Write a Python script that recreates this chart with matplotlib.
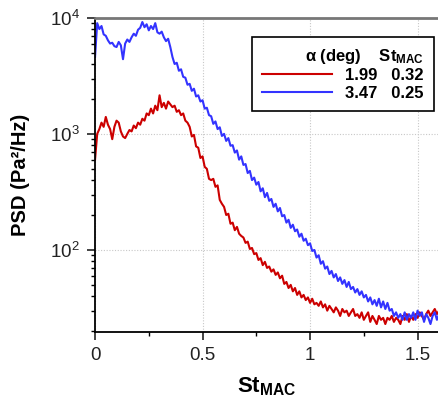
import numpy as np
import matplotlib
matplotlib.use("Agg")
import matplotlib.pyplot as plt

plt.rcParams['font.family'] = ['Liberation Sans', 'DejaVu Sans']
plt.rcParams['mathtext.fontset'] = 'custom'
plt.rcParams['mathtext.rm'] = 'Liberation Sans'
plt.rcParams['mathtext.bf'] = 'Liberation Sans:bold'
plt.rcParams['mathtext.default'] = 'regular'

# Strouhal number axis (step 0.01)
st = np.round(np.arange(0, 1.601, 0.01), 2)

# alpha = 1.99 deg
psd_red = [
    600, 1000, 1100, 1250, 1150, 1400, 1200, 1100, 900, 1150,
    1300, 1250, 1050, 950, 920, 1000, 1080, 1050, 1180, 1120,
    1250, 1200, 1350, 1300, 1500, 1450, 1650, 1500, 1750, 1600,
    2150, 1700, 1850, 1650, 1900, 1800, 1700, 1750, 1550, 1600,
    1450, 1500, 1300, 1250, 1150, 950, 980, 780, 760, 620,
    640, 520, 500, 410, 400, 410, 350, 360, 270, 250,
    235, 200, 205, 168, 172, 148, 158, 138, 132, 128,
    115, 118, 102, 104, 92, 94, 82, 85, 74, 79,
    70, 72, 65, 68, 61, 64, 57, 60, 51, 53,
    47, 50, 44, 47, 41, 44, 39, 41, 37, 39,
    35, 38, 34, 35, 33, 36, 32, 34, 30, 33,
    31, 29, 32, 30, 27, 31, 29, 30, 27, 29,
    31, 27, 28, 26, 29, 25, 27, 29, 24, 27,
    25, 23, 27, 25, 26, 23, 26, 25, 27, 24,
    26, 25, 23, 27, 25, 28, 24, 27, 25, 28,
    26, 29, 27, 25, 28, 30, 27, 29, 31, 28,
    30,
]

# alpha = 3.47 deg
psd_blue = [
    4600, 9000, 8000, 8500, 7200, 7000, 6400, 6000, 6100, 5700,
    5600, 6200, 5800, 4400, 6000, 6500, 6200, 6800, 7300, 7000,
    7900, 8200, 9200, 8300, 8800, 7800, 8500, 8000, 9000, 7500,
    7300, 7600, 6800, 6300, 6600, 5600, 4600, 4000, 4100, 3500,
    3600, 3100, 3050, 2650, 2700, 2350, 2450, 2100, 2150, 1900,
    1950, 1650, 1680, 1450, 1420, 1220, 1280, 1100, 1140, 960,
    1000, 870, 920, 790, 800, 690, 720, 600, 640, 540,
    550, 460, 480, 400, 420, 365, 385, 320, 340, 285,
    310, 265, 275, 235, 250, 215, 230, 195, 200, 172,
    182, 155, 165, 145, 150, 130, 138, 120, 125, 110,
    114, 98, 100, 86, 90, 76, 80, 69, 72, 62,
    66, 58, 62, 54, 58, 51, 55, 48, 53, 46,
    48, 43, 46, 41, 44, 39, 41, 36, 39, 34,
    37, 33, 38, 32, 36, 31, 35, 30, 31, 27,
    29, 26, 28, 25, 29, 25, 28, 26, 29, 25,
    30, 27, 29, 24, 28, 26, 23, 27, 29, 25,
    28,
]

alpha_deg = [1.99, 3.47]
st_mac = [0.32, 0.25]
colors = ['#cc0000', '#3333ff']

fig = plt.figure(figsize=(4.38, 4.05), dpi=100)
ax = fig.add_axes([0.217, 0.180, 0.783, 0.776])

for y, c, a, s in zip([psd_red, psd_blue], colors, alpha_deg, st_mac):
    ax.plot(st, y, color=c, lw=1.5, label=f"{a:.2f}   {s:.2f}")

ax.set_yscale('log')
ax.set_xlim(0, 1.595)
ax.set_ylim(19.6, 1e4)
ax.set_xticks([0, 0.5, 1, 1.5])
ax.set_xticklabels(['0', '0.5', '1', '1.5'])
ax.set_xticks([0.25, 0.75, 1.25], minor=True)

ax.grid(True, which='major', ls=(0, (1, 1.5)), color='#c8c8c8', lw=0.8)
ax.tick_params(which='major', direction='out', length=6, width=1.2,
               labelsize=13.5, colors='#222222', pad=5)
ax.tick_params(which='minor', direction='out', length=3, width=1)
ax.tick_params(axis='y', which='minor', labelleft=False)

ax.spines['right'].set_visible(False)
ax.spines['top'].set_color('#777777')
ax.spines['top'].set_linewidth(2)
ax.spines['left'].set_linewidth(1.3)
ax.spines['bottom'].set_linewidth(1.3)

ax.set_xlabel(r"$\mathbf{St_{MAC}}$", fontsize=16, labelpad=8)
ax.set_ylabel("PSD (Pa²/Hz)", fontsize=14.5, fontweight='bold', labelpad=14)

leg = ax.legend(loc='upper right', bbox_to_anchor=(0.988, 0.94),
                borderaxespad=0,
                title=r"α (deg)    $\mathbf{St_{MAC}}$",
                prop={'size': 12, 'weight': 'bold'},
                title_fontproperties={'size': 12, 'weight': 'bold'},
                alignment='right', fancybox=False, framealpha=1,
                edgecolor='black', handlelength=4.2, borderpad=0.6,
                labelspacing=0.15, handletextpad=0.8)
leg.get_frame().set_linewidth(1.2)

fig.savefig('out.png', dpi=100)
